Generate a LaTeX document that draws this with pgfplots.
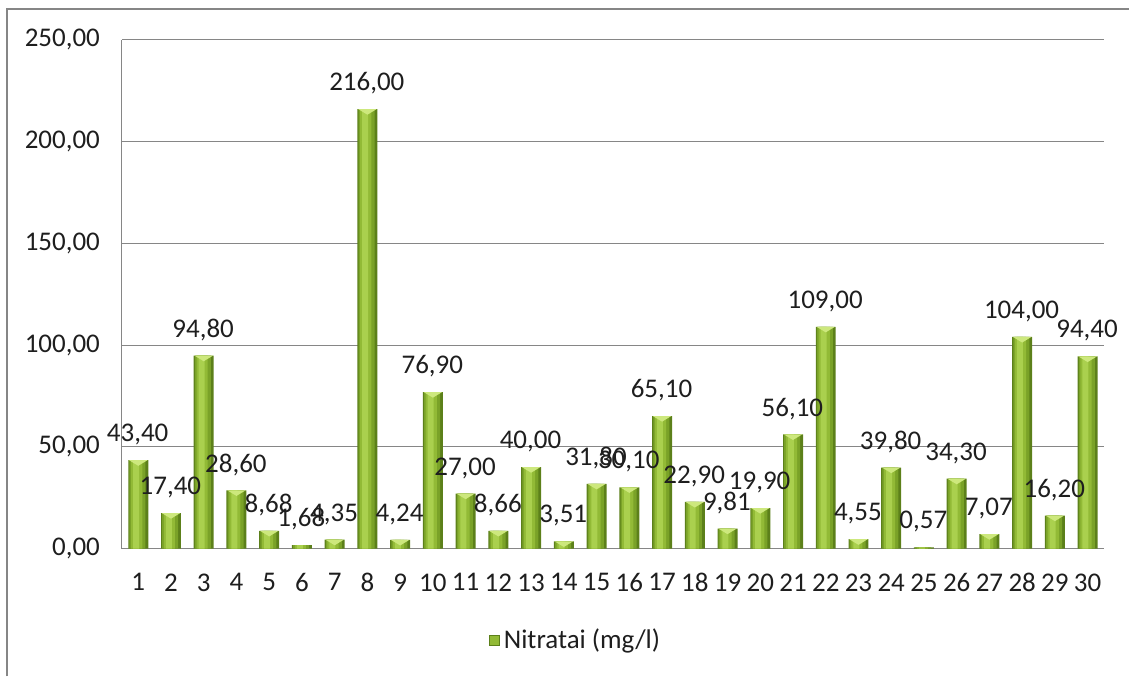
\documentclass[border=0pt]{standalone}
\usepackage{fontspec}
\setmainfont{Carlito}
\usepackage{pgfplots}
\pgfplotsset{compat=1.18}
\usepackage{pgfplotstable}
\definecolor{gridgray}{RGB}{134,134,134}
\definecolor{barA}{RGB}{92,128,26}
\definecolor{barB}{RGB}{122,162,40}
\definecolor{barC}{RGB}{146,186,54}
\definecolor{barD}{RGB}{170,208,78}
\definecolor{bevel}{RGB}{205,232,125}
\definecolor{txt}{RGB}{30,30,30}
\pgfdeclareplotmark{bevel}{%
  \pgfpathmoveto{\pgfpoint{-4.6pt}{0pt}}%
  \pgfpathlineto{\pgfpoint{4.6pt}{0pt}}%
  \pgfpathlineto{\pgfpoint{0pt}{-2.8pt}}%
  \pgfpathclose\pgfusepathqfill}
\pgfplotstableread{
x y label
1 43.4 43,40
2 17.4 17,40
3 94.8 94,80
4 28.6 28,60
5 8.68 8,68
6 1.68 1,68
7 4.35 4,35
8 216 216,00
9 4.24 4,24
10 76.9 76,90
11 27 27,00
12 8.66 8,66
13 40 40,00
14 3.51 3,51
15 31.8 31,80
16 30.1 30,10
17 65.1 65,10
18 22.9 22,90
19 9.81 9,81
20 19.9 19,90
21 56.1 56,10
22 109 109,00
23 4.55 4,55
24 39.8 39,80
25 0.57 0,57
26 34.3 34,30
27 7.07 7,07
28 104 104,00
29 16.2 16,20
30 94.4 94,40
}\datatable
\begin{document}
\begin{tikzpicture}
\path (0pt,0pt) rectangle (565pt,338.5pt);
\draw[gridgray, line width=1pt] (3.3pt,0pt) -- (3.3pt,334pt) -- (565pt,334pt);
\begin{axis}[
  at={(61pt,64pt)}, anchor=south west,
  width=491.5pt, height=254.5pt, scale only axis,
  xmin=0.5, xmax=30.5, ymin=0, ymax=250,
  ytick={0,50,...,250}, xtick={1,...,30},
  ymajorgrids, grid style={gridgray, line width=0.5pt},
  axis x line*=bottom, axis y line*=left,
  axis line style={gridgray, line width=0.5pt},
  major tick length=0pt,
  tick label style={font=\fontsize{13.5}{16}\selectfont, text=txt, /pgf/number format/assume math mode=true},
  yticklabel style={xshift=-7.5pt, /pgf/number format/.cd, fixed, fixed zerofill, precision=2, use comma, assume math mode=true},
  xticklabel style={yshift=-9pt},
  legend style={at={(0.463,-0.181)}, anchor=center, draw=none, fill=none,
    font=\fontsize{13.5}{16}\selectfont, text=txt},
  legend image code/.code={\draw[fill=barC, draw=barA] (0pt,-2.5pt) rectangle (5pt,2.5pt);},
  clip=false,
]
\addplot[ybar, bar width=10pt, bar shift=0pt, draw=none, fill=barA] table[x=x, y=y] {\datatable};
\addlegendentry{Nitratai (mg/l)}
\addplot[ybar, bar width=8pt, bar shift=-0.4pt, draw=none, fill=barB, forget plot] table[x=x, y=y] {\datatable};
\addplot[ybar, bar width=5.6pt, bar shift=-0.8pt, draw=none, fill=barC, forget plot] table[x=x, y=y] {\datatable};
\addplot[ybar, bar width=3pt, bar shift=-1.1pt, draw=none, fill=barD, forget plot] table[x=x, y=y] {\datatable};
\addplot[only marks, mark=bevel, color=bevel, forget plot, restrict y to domain=2:300] table[x=x, y=y] {\datatable};
\addplot[draw=none, mark=none, forget plot, nodes near coords, point meta=explicit symbolic,
  every node near coord/.append style={anchor=center, inner sep=0pt, yshift=12.8pt, xshift=-0.3pt, font=\fontsize{13.5}{16}\selectfont, text=txt}]
  table[x=x, y=y, meta=label] {\datatable};
\end{axis}
\end{tikzpicture}
\end{document}
